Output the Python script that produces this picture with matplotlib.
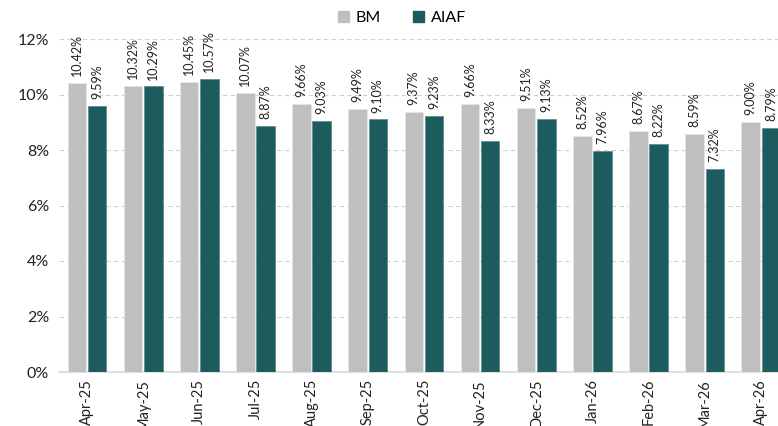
import numpy as np
import matplotlib.pyplot as plt
from matplotlib.patches import Patch

plt.rcParams['font.family'] = ['Lato', 'DejaVu Sans']

meses = ['Apr-25', 'May-25', 'Jun-25', 'Jul-25', 'Aug-25', 'Sep-25', 'Oct-25',
         'Nov-25', 'Dec-25', 'Jan-26', 'Feb-26', 'Mar-26', 'Apr-26']
bm = [10.42, 10.32, 10.45, 10.07, 9.66, 9.49, 9.37, 9.66, 9.51, 8.52, 8.67, 8.59, 9.00]
aiaf = [9.59, 10.29, 10.57, 8.87, 9.03, 9.10, 9.23, 8.33, 9.13, 7.96, 8.22, 7.32, 8.79]

gris = '#bfbfbf'
verde = '#1c5b5e'

fig = plt.figure(figsize=(7.78, 4.26), dpi=100)
# l'axe déborde à droite : la dernière barre est coupée par le bord
ax = fig.add_axes([58.9 / 778, 54 / 426, 730 / 778, 333 / 426])

x = np.arange(len(meses))
w = 0.33
b1 = ax.bar(x - 0.18, bm, w, color=gris, edgecolor='#e6e6e6', linewidth=0.6, zorder=3)
b2 = ax.bar(x + 0.18, aiaf, w, color=verde, edgecolor='#5f8f90', linewidth=0.6, zorder=3)

for barres, vals in ((b1, bm), (b2, aiaf)):
    for b, v in zip(barres, vals):
        ax.annotate(f'{v:.2f}%', (b.get_x() + b.get_width() / 2, v),
                    xytext=(0, 5), textcoords='offset points',
                    rotation=90, ha='center', va='bottom', fontsize=9,
                    color='#222222', clip_on=False)

ax.set_xlim(-0.5, len(meses) - 0.5)
ax.set_ylim(0, 12)
ax.set_yticks(range(0, 13, 2))
ax.set_yticklabels([f'{t}%' for t in range(0, 13, 2)], fontsize=11.5)
ax.set_xticks(x)
ax.set_xticklabels(meses, rotation=90, fontsize=10.5)
ax.tick_params(axis='y', length=0, pad=7, colors='#222222')
ax.tick_params(axis='x', length=0, pad=5, colors='#222222')

ax.grid(axis='y', color='#d0d0d0', linestyle=(0, (4, 3)), linewidth=0.8, zorder=0)
for s in ['top', 'right', 'left']:
    ax.spines[s].set_visible(False)
ax.spines['bottom'].set_color('#d9d9d9')
ax.spines['bottom'].set_linewidth(1.2)

handles = [Patch(color=gris, label='BM'), Patch(color=verde, label='AIAF')]
fig.legend(handles=handles, loc='center', bbox_to_anchor=(402 / 778, 1 - 18 / 426),
           ncol=2, frameon=False, fontsize=11.5, handlelength=0.7, handleheight=0.7,
           columnspacing=2.0, handletextpad=0.4)

fig.savefig('out.png', dpi=100)
